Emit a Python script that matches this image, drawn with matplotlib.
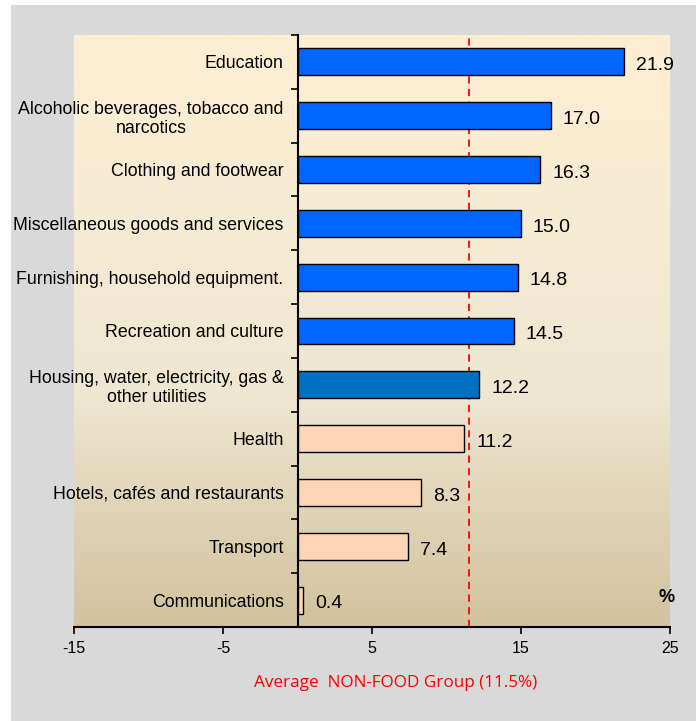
import numpy as np
import matplotlib.pyplot as plt
from matplotlib.colors import LinearSegmentedColormap
from matplotlib.patches import Rectangle

categories = ['Education', 'Alcoholic beverages, tobacco and\nnarcotics', 'Clothing and footwear',
              'Miscellaneous goods and services', 'Furnishing, household equipment.',
              'Recreation and culture', 'Housing, water, electricity, gas &\nother utilities',
              'Health', 'Hotels, cafés and restaurants', 'Transport', 'Communications']
values = [21.9, 17.0, 16.3, 15.0, 14.8, 14.5, 12.2, 11.2, 8.3, 7.4, 0.4]
bar_colors = ['#0066FF'] * 6 + ['#0070C0'] + ['#FDD6B8'] * 4
average = 11.5
xticks = [-15, -5, 5, 15, 25]

fig = plt.figure(figsize=(6.96, 7.21), dpi=100)
fig.add_artist(Rectangle((11 / 696, 0), 1, 1 - 5 / 721, transform=fig.transFigure,
                         facecolor='#D9D9D9', edgecolor='none', zorder=-10))
ax = fig.add_axes([74 / 696, 1 - 627 / 721, 596 / 696, 592 / 721])
ax.set_facecolor('none')

# spine positions first (moving a spine resets the tick objects)
ax.spines['left'].set_position(('data', 0))
ax.spines['left'].set_linewidth(1.5)
ax.spines['bottom'].set_linewidth(1.5)
ax.spines['top'].set_visible(False)
ax.spines['right'].set_visible(False)

# background gradient of plot area
grad = LinearSegmentedColormap.from_list('bg', [(0, '#D2C29E'), (0.4, '#EFE7D2'), (1, '#FDEFD4')])
ax.imshow(np.linspace(0, 1, 256).reshape(-1, 1), cmap=grad, origin='lower', aspect='auto',
          extent=(-15, 25, -0.5, len(values) - 0.5), zorder=0)

y = np.arange(len(values))[::-1]
ax.barh(y, values, height=0.5, color=bar_colors, edgecolor='black', linewidth=1, zorder=3)
for yi, v in zip(y, values):
    ax.text(v + 0.8, yi - 0.07, f'{v:.1f}', va='center', ha='left', fontsize=14,
            family='Liberation Sans', zorder=4)

ax.axvline(average, color='red', linestyle=(0, (4, 3)), linewidth=1.3, zorder=2)

ax.set_xlim(-15, 25)
ax.set_ylim(-0.5, len(values) - 0.5)
ax.set_xticks(xticks)
ax.set_xticklabels([str(t) for t in xticks], family='Liberation Sans', fontsize=11.5)
ax.tick_params(axis='x', direction='out', length=5, width=1.2, pad=5)

ax.set_yticks(y)
ax.set_yticks(np.arange(len(values) + 1) - 0.5, minor=True)
ax.tick_params(axis='y', which='major', length=0, pad=10)
ax.tick_params(axis='y', which='minor', length=5, width=1.2, direction='out')
ax.set_yticklabels(categories, family='Liberation Sans', fontsize=12.8)
for lbl in ax.get_yticklabels():
    lbl.set_multialignment('center')

ax.text(1.007, 0.05, '%', transform=ax.transAxes, ha='right', va='center',
        fontsize=13, fontweight='bold', family='Liberation Sans')
ax.set_xlabel('Average  NON-FOOD Group (11.5%)', color='red', fontsize=12.3,
              family='Open Sans', labelpad=14, x=0.539)

fig.savefig('out.png', dpi=100)
